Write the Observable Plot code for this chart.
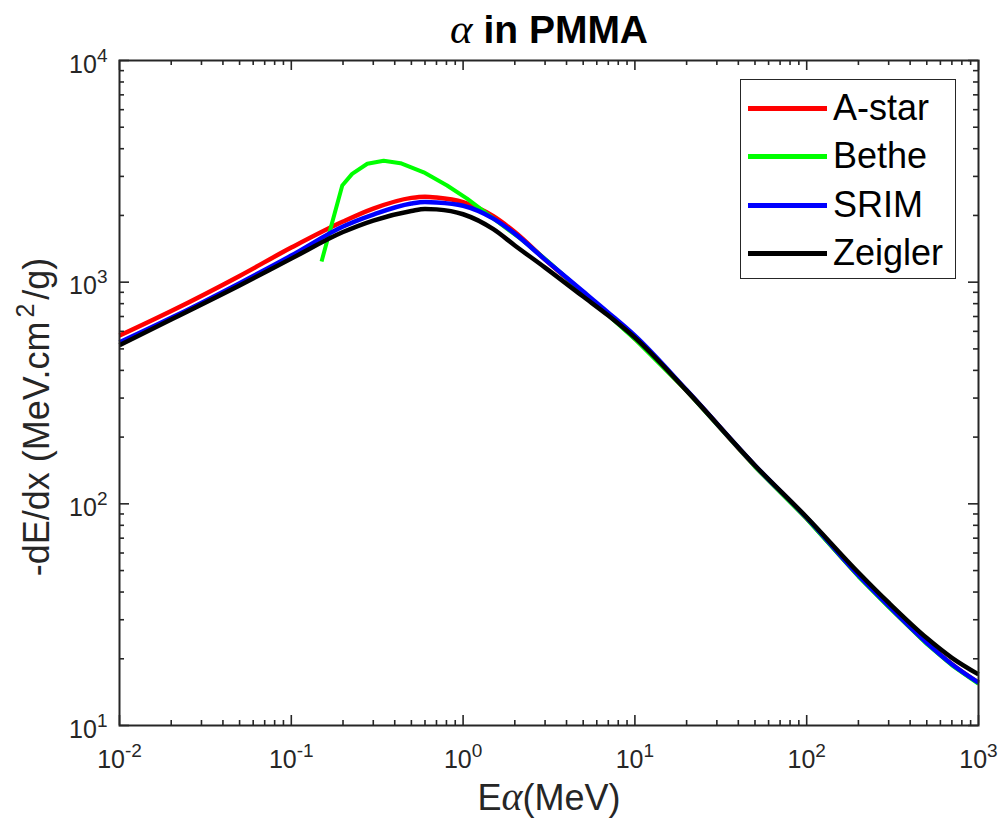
<!DOCTYPE html>
<html><head><meta charset="utf-8">
<script src="https://cdn.jsdelivr.net/npm/d3@7"></script>
<script src="https://cdn.jsdelivr.net/npm/@observablehq/plot@0.6"></script>
<style>
html,body{margin:0;padding:0;background:#fff;}
#wrap{position:relative;width:999px;height:819px;font-family:"Liberation Sans",Arial,sans-serif;}
#legend{position:absolute;left:740px;top:79px;width:214px;height:198px;border:1.5px solid #262626;background:#fff;}
.item{position:absolute;left:0;width:214px;height:48px;}
.item .ln{position:absolute;left:7px;width:79px;top:22px;height:5px;}
.item .tx{position:absolute;left:92px;top:1px;font-size:36px;line-height:46px;color:#000;}
</style></head><body><div id="wrap"></div>
<script>
// ---- data ----
const energy = [0.01, 0.02, 0.05, 0.1, 0.2, 0.3, 0.5, 0.6, 0.7, 1, 1.5, 2, 3, 5, 7, 10, 20, 50, 100, 200, 300, 500, 700, 1000];
const astar  = [574, 741, 1067, 1432, 1877, 2147, 2400, 2430, 2410, 2296, 1983, 1682, 1264, 898, 714, 557, 324, 148, 86, 47.5, 34.6, 23.6, 18.9, 15.6];
const srim   = [535, 690, 990, 1318, 1782, 2018, 2263, 2300, 2290, 2213, 1936, 1656, 1264, 907, 729, 574, 326, 149, 86.5, 47.6, 34.6, 23.6, 18.9, 15.6];
const zeigler= [520, 678, 966, 1277, 1683, 1897, 2093, 2140, 2130, 2025, 1734, 1464, 1163, 861, 707, 562, 324, 149, 87, 49, 35.8, 24.8, 20.2, 17.0];
const betheE = [0.15, 0.198, 0.226, 0.277, 0.345, 0.432, 0.59, 0.807, 1.055, 1.51, 2.16, 3.09, 5, 7, 10, 20, 50, 100, 200, 300, 500, 700, 1000];
const betheS = [1240, 2730, 3080, 3420, 3530, 3440, 3130, 2730, 2380, 1930, 1570, 1250, 895, 710, 553, 323, 147, 85.5, 47, 34.2, 23.3, 18.7, 15.4];
const seriesNames = ["A-star", "Bethe", "SRIM", "Zeigler"];
const seriesColors = ["#ff0000", "#00ff00", "#0000ff", "#000000"];
const xTickExps = [-2, -1, 0, 1, 2, 3];
const yTickExps = [1, 2, 3, 4];
const titleText = "α in PMMA";
const xLabelText = "Eα(MeV)";
const yLabelText = "-dE/dx (MeV.cm^2/g)";

// ---- build tables ----
const rows = [];
energy.forEach((e, i) => rows.push({s: "A-star", e, v: astar[i]}));
betheE.forEach((e, i) => rows.push({s: "Bethe", e, v: betheS[i]}));
energy.forEach((e, i) => rows.push({s: "SRIM", e, v: srim[i]}));
energy.forEach((e, i) => rows.push({s: "Zeigler", e, v: zeigler[i]}));

const xMajor = xTickExps.map(k => 10 ** k);
const yMajor = yTickExps.map(k => 10 ** k);
const minorOf = (exps) => {
  const out = [];
  for (let i = 0; i < exps.length - 1; i++) for (let m = 2; m <= 9; m++) out.push(m * 10 ** exps[i]);
  return out;
};
const xMinor = minorOf(xTickExps);
const yMinor = minorOf(yTickExps);

const W = 999, H = 819, mL = 119, mR = 21, mT = 60, mB = 94;
const fw = W - mL - mR, fh = H - mT - mB;
const axisColor = "#262626";
const font = "Liberation Sans, Arial, sans-serif";

const marks = [];
seriesNames.forEach((name, i) => {
  marks.push(Plot.line(rows.filter(d => d.s === name), {
    x: "e", y: "v", stroke: seriesColors[i],
    strokeWidth: name === "Bethe" ? 4 : 4.5,
    curve: name === "Bethe" ? "linear" : "monotone-x",
    strokeLinejoin: "round", strokeLinecap: "butt"
  }));
});
// ticks (inward, box on all four sides)
const tk = {stroke: axisColor, strokeWidth: 1.6};
marks.push(
  Plot.ruleX(xMajor, {...tk, insetTop: fh - 10}),
  Plot.ruleX(xMajor, {...tk, insetBottom: fh - 10}),
  Plot.ruleX(xMinor, {...tk, insetTop: fh - 5}),
  Plot.ruleX(xMinor, {...tk, insetBottom: fh - 5}),
  Plot.ruleY(yMajor, {...tk, insetRight: fw - 10}),
  Plot.ruleY(yMajor, {...tk, insetLeft: fw - 10}),
  Plot.ruleY(yMinor, {...tk, insetRight: fw - 5}),
  Plot.ruleY(yMinor, {...tk, insetLeft: fw - 5}),
  Plot.frame({stroke: axisColor, strokeWidth: 2})
);
// tick labels, title, axis labels
marks.push(
  Plot.text(xTickExps, {x: d => 10 ** d, text: d => "10^" + d, frameAnchor: "bottom", dy: 42,
    lineAnchor: "bottom", textAnchor: "middle", fontSize: 25, fill: axisColor, fontFamily: font}),
  Plot.text(yTickExps, {y: d => 10 ** d, text: d => "10^" + d, frameAnchor: "left", dx: -12, dy: 12,
    lineAnchor: "bottom", textAnchor: "end", fontSize: 25, fill: axisColor, fontFamily: font}),
  Plot.text([titleText], {text: d => d, frameAnchor: "top", dy: -18, lineAnchor: "bottom", textAnchor: "middle",
    fontSize: 39, fontWeight: "bold", fill: "#000", fontFamily: font}),
  Plot.text([xLabelText], {text: d => d, frameAnchor: "bottom", dy: 84, lineAnchor: "bottom", textAnchor: "middle",
    fontSize: 36, fill: axisColor, fontFamily: font}),
  Plot.text([yLabelText], {text: d => d, frameAnchor: "left", dx: -71, dy: 24, rotate: -90, lineAnchor: "bottom",
    textAnchor: "middle", fontSize: 36, fill: axisColor, fontFamily: font})
);

const chart = Plot.plot({
  width: W, height: H,
  marginLeft: mL, marginRight: mR, marginTop: mT, marginBottom: mB,
  x: {type: "log", domain: [10 ** xTickExps[0], 10 ** xTickExps[xTickExps.length - 1]], axis: null},
  y: {type: "log", domain: [10 ** yTickExps[0], 10 ** yTickExps[yTickExps.length - 1]], axis: null},
  style: {background: "#fff", fontFamily: font, overflow: "visible"},
  marks
});

// rich text: superscripts and italic alpha
d3.select(chart).selectAll("text").each(function () {
  const t = d3.select(this);
  const s = this.textContent;
  if (/^10\^/.test(s)) {
    const [b, e] = s.split("^");
    t.text(null);
    t.append("tspan").text(b);
    t.append("tspan").attr("font-size", 19).attr("dy", -11).text(e);
  } else if (s === titleText) {
    t.text(null);
    t.append("tspan").attr("font-family", "Liberation Serif, serif").attr("font-style", "italic")
      .attr("font-weight", "normal").attr("font-size", 43).text(s[0]);
    t.append("tspan").text(s.slice(1));
  } else if (s === xLabelText) {
    const i = s.indexOf("α");
    t.text(null);
    t.append("tspan").text(s.slice(0, i));
    t.append("tspan").attr("font-family", "Liberation Serif, serif").attr("font-style", "italic").attr("font-size", 40).text("α");
    t.append("tspan").text(s.slice(i + 1));
  } else if (s === yLabelText) {
    const i = s.indexOf("^");
    t.text(null);
    t.append("tspan").text(s.slice(0, i));
    t.append("tspan").attr("font-size", 25).attr("dy", -15).attr("dx", 4).text(s[i + 1]);
    t.append("tspan").attr("dy", 15).attr("dx", 4).text(s.slice(i + 2));
  }
});

const wrap = document.getElementById("wrap");
wrap.appendChild(chart);

// legend
const leg = document.createElement("div");
leg.id = "legend";
seriesNames.forEach((n, i) => {
  const it = document.createElement("div");
  it.className = "item";
  it.style.top = (4 + i * 48.3) + "px";
  const ln = document.createElement("div");
  ln.className = "ln";
  ln.style.background = seriesColors[i];
  const tx = document.createElement("div");
  tx.className = "tx";
  tx.textContent = n;
  it.appendChild(ln); it.appendChild(tx);
  leg.appendChild(it);
});
wrap.appendChild(leg);
</script>
</body></html>
